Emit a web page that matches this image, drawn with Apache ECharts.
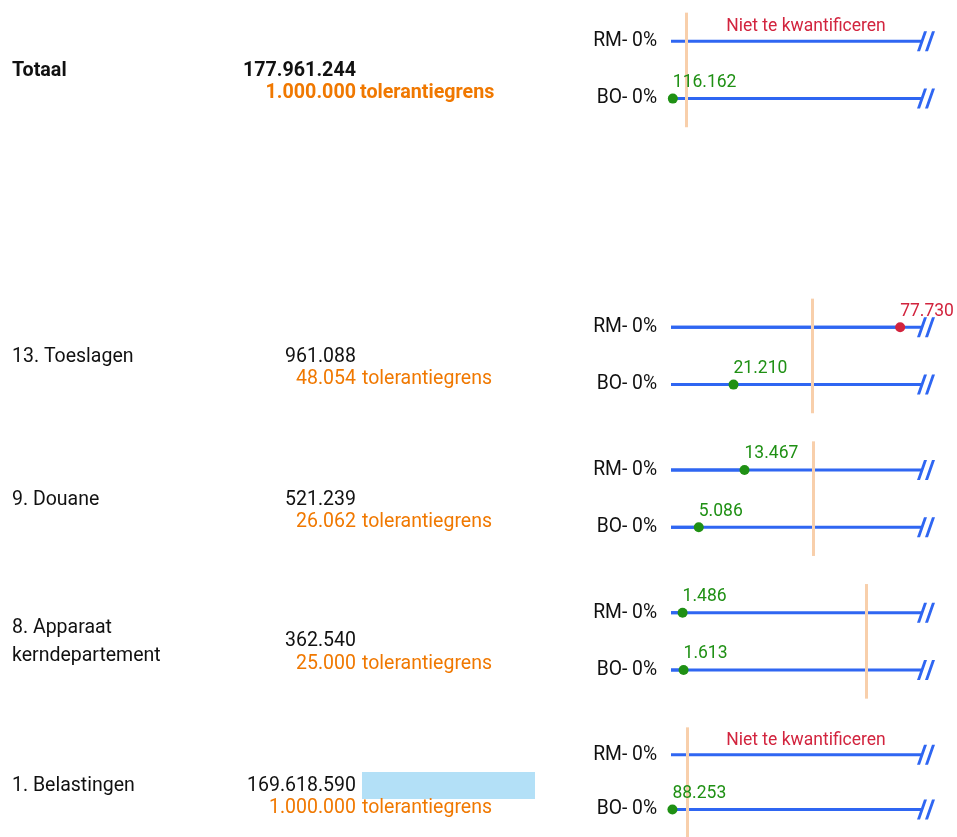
<!DOCTYPE html>
<html>
<head>
<meta charset="utf-8">
<title>Tolerantiegrens</title>
<script src="https://cdn.jsdelivr.net/npm/echarts@6/dist/echarts.min.js"></script>
<style>
  html, body { margin: 0; padding: 0; background: #fff; }
  #chart { width: 957px; height: 837px; }
</style>
</head>
<body>
<div id="chart"></div>
<script>
// data
const names = ['Totaal', '13. Toeslagen', '9. Douane', '8. Apparaat\nkerndepartement', '1. Belastingen'];
const totals = [177961244, 961088, 521239, 362540, 169618590];
const tolerances = [1000000, 48054, 26062, 25000, 1000000];
const rmValues = [null, 77730, 13467, 1486, null];
const boValues = [116162, 21210, 5086, 1613, 88253];
const rowLabels = ['RM- 0%', 'BO- 0%'];
const notQuantifiable = 'Niet te kwantificeren';
const toleranceWord = 'tolerantiegrens';

// layout
const axisMax = [15900000, 84800, 45800, 32050, 15300000];
const rmY = [41.3, 327.3, 470, 612.7, 756];
const rowGap = 57.3;
const lineLeft = 671;
const lineRight = 921;

const BLUE = '#2f66f2';
const PEACH = '#f8cfab';
const GREEN = '#1f9014';
const RED = '#d2243e';
const ORANGE = '#f07800';
const FONT = 'Roboto';

function fmt(v) {
  return String(v).replace(/\B(?=(\d{3})+(?!\d))/g, '.');
}

const chart = echarts.init(document.getElementById('chart'));

const grids = [];
const xAxes = [];
const yAxes = [];
const series = [];
const graphics = [];

names.forEach((name, i) => {
  const top = rmY[i] - rowGap / 2;
  grids.push({ left: lineLeft, width: lineRight - lineLeft, top: top, height: rowGap * 2 });
  xAxes.push({ gridIndex: i, type: 'value', min: 0, max: axisMax[i], show: false });
  yAxes.push({
    gridIndex: i,
    type: 'category',
    inverse: true,
    data: rowLabels,
    axisLine: { show: false },
    axisTick: { show: false },
    splitLine: { show: false },
    axisLabel: { color: '#111', fontSize: 19.3, fontFamily: FONT, margin: 14 }
  });

  const tol = tolerances[i];
  // blue tracks + tolerance line
  series.push({
    type: 'bar',
    xAxisIndex: i,
    yAxisIndex: i,
    silent: true,
    barWidth: 3,
    showBackground: true,
    backgroundStyle: { color: BLUE, opacity: 1 },
    itemStyle: { color: BLUE },
    data: [rmValues[i], boValues[i]],
    z: 1,
    markLine: {
      silent: true,
      symbol: 'none',
      label: { show: false },
      lineStyle: { color: PEACH, width: 3, type: 'solid', opacity: 1 },
      emphasis: { disabled: true },
      data: [{ xAxis: tol }],
      z: 3
    }
  });

  // break marks at the end of each track
  series.push({
    type: 'scatter',
    xAxisIndex: i,
    yAxisIndex: i,
    silent: true,
    clip: false,
    symbol: 'path://M0,20 L3,20 L10,0 L7,0 Z M8,20 L11,20 L18,0 L15,0 Z',
    symbolSize: [18, 20],
    symbolOffset: [5, 0],
    itemStyle: { color: BLUE, opacity: 1 },
    data: rowLabels.map(r => [axisMax[i], r]),
    z: 4
  });

  // value dots
  const pts = [];
  [rmValues[i], boValues[i]].forEach((v, k) => {
    if (v == null) return;
    const c = v > tol ? RED : GREEN;
    pts.push({
      value: [v, rowLabels[k]],
      itemStyle: { color: c, opacity: 1 },
      label: { color: c }
    });
  });
  series.push({
    type: 'scatter',
    xAxisIndex: i,
    yAxisIndex: i,
    silent: true,
    clip: false,
    symbolSize: 10,
    data: pts,
    z: 5,
    label: {
      show: true,
      position: 'top',
      align: 'left',
      distance: 2,
      fontSize: 17.5,
      fontFamily: FONT,
      formatter: p => fmt(p.value[0])
    }
  });

  // text on the left
  const mid = rmY[i] + rowGap / 2 + 1;
  const bold = i === 0 ? 'bold' : 'normal';
  const size = i === 0 ? 19.7 : 19.5;
  const isMulti = name.indexOf('\n') >= 0;
  graphics.push({
    type: 'text', x: 12, y: mid,
    style: { text: name, fill: '#111', fontSize: size, fontWeight: bold, fontFamily: FONT,
             align: 'left', verticalAlign: 'middle', lineHeight: 28 }
  });
  graphics.push({
    type: 'text', x: 356, y: isMulti ? mid - 1 : mid,
    style: { text: fmt(totals[i]), fill: '#111', fontSize: size, fontWeight: bold, fontFamily: FONT,
             align: 'right', verticalAlign: 'middle' }
  });
  graphics.push({
    type: 'text', x: 356, y: mid + 22,
    style: { text: fmt(tol), fill: ORANGE, fontSize: size, fontWeight: bold, fontFamily: FONT,
             align: 'right', verticalAlign: 'middle' }
  });
  graphics.push({
    type: 'text', x: i === 0 ? 360 : 362, y: mid + 22,
    style: { text: toleranceWord, fill: ORANGE, fontSize: size, fontWeight: bold, fontFamily: FONT,
             align: 'left', verticalAlign: 'middle' }
  });

  if (rmValues[i] == null) {
    graphics.push({
      type: 'text', x: 806, y: rmY[i] - 15,
      style: { text: notQuantifiable, fill: RED, fontSize: 17.5, fontFamily: FONT,
               align: 'center', verticalAlign: 'middle' }
    });
  }
});

// highlight block next to Belastingen
graphics.push({
  type: 'rect', z: -1,
  shape: { x: 362, y: 772, width: 173, height: 27 },
  style: { fill: '#b3e0f7' }
});

chart.setOption({
  animation: false,
  grid: grids,
  xAxis: xAxes,
  yAxis: yAxes,
  series: series,
  graphic: graphics
});
</script>
</body>
</html>
